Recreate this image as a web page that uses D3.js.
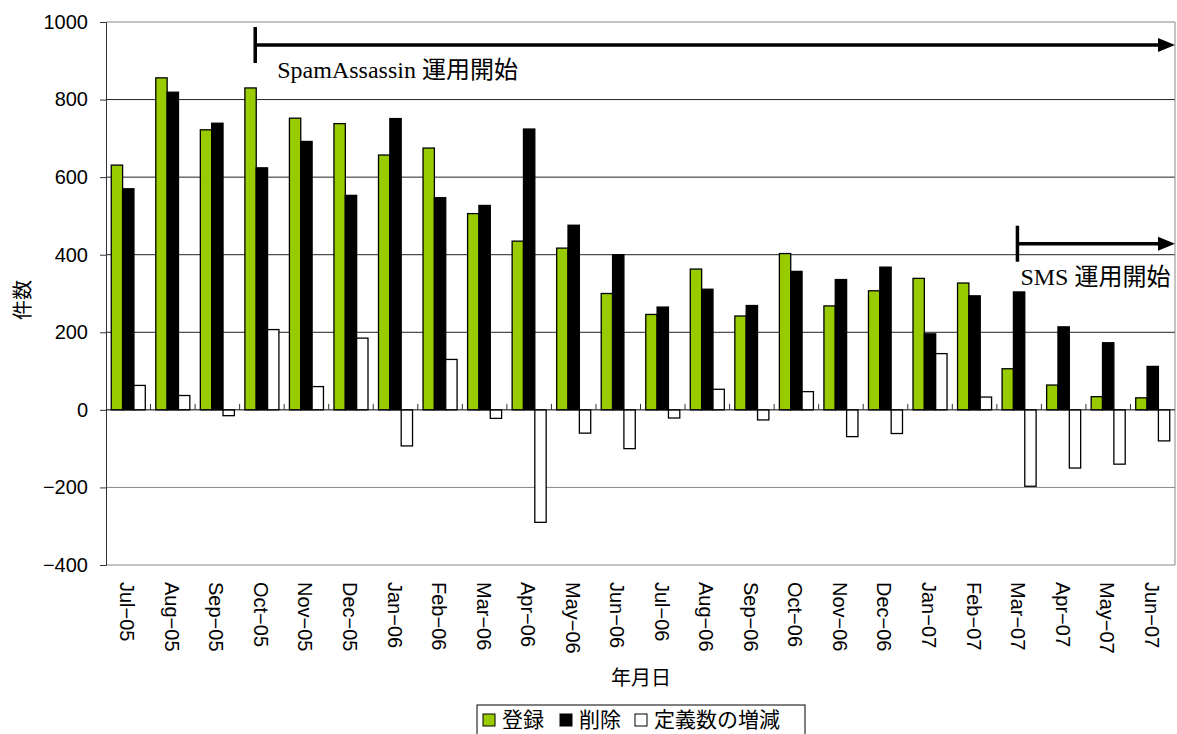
<!DOCTYPE html>
<html>
<head>
<meta charset="utf-8">
<script src="https://cdn.jsdelivr.net/npm/d3@7"></script>
<style>
  body { margin: 0; background: #fff; }
  .tick-label { font-family: "Liberation Sans", Arial, "Noto Sans CJK JP", sans-serif; font-size: 20px; fill: #000; }
  .cat-label { font-family: "Liberation Sans", Arial, sans-serif; font-size: 20px; fill: #000; }
  .title { font-family: "Liberation Sans", Arial, "Noto Sans CJK JP", sans-serif; font-size: 20px; fill: #000; }
  .note { font-family: "Liberation Serif", "Times New Roman", "Noto Sans CJK JP", serif; font-size: 24px; fill: #000; }
  .legend-text { font-family: "Liberation Sans", Arial, "Noto Sans CJK JP", sans-serif; font-size: 21px; fill: #000; }
</style>
</head>
<body>
<div id="chart"></div>
<script>
// Data
const months = [
  "Jul-05", "Aug-05", "Sep-05", "Oct-05", "Nov-05", "Dec-05",
  "Jan-06", "Feb-06", "Mar-06", "Apr-06", "May-06", "Jun-06",
  "Jul-06", "Aug-06", "Sep-06", "Oct-06", "Nov-06", "Dec-06",
  "Jan-07", "Feb-07", "Mar-07", "Apr-07", "May-07", "Jun-07"
];
const registered = [631, 856, 722, 830, 752, 738, 657, 675, 506, 435, 417, 300,
  246, 363, 242, 403, 268, 307, 339, 327, 106, 64, 34, 31];
const deleted = [570, 819, 739, 624, 692, 553, 751, 547, 527, 724, 476, 400,
  265, 311, 269, 357, 336, 368, 196, 294, 304, 214, 173, 112];
const netChange = [63, 37, -15, 207, 60, 185, -93, 130, -22, -290, -60, -100,
  -21, 53, -26, 47, -69, -61, 145, 33, -197, -150, -140, -80];
const yTicks = [-400, -200, 0, 200, 400, 600, 800, 1000];

const seriesNames = ["登録", "削除", "定義数の増減"];
const seriesColors = ["#99cc00", "#000000", "#ffffff"];

const width = 1177;
const height = 734;
const margin = { top: 22, right: 2, bottom: 169, left: 106 };
const plotW = width - margin.left - margin.right;
const plotH = height - margin.top - margin.bottom;

const svg = d3.select("#chart")
  .append("svg")
  .attr("width", width)
  .attr("height", height);

const g = svg.append("g")
  .attr("transform", "translate(" + margin.left + "," + margin.top + ")");

const xScale = d3.scaleBand()
  .domain(months)
  .range([0, plotW]);

const groupPad = xScale.bandwidth() * 0.118;
const barScale = d3.scaleBand()
  .domain([0, 1, 2])
  .range([groupPad, xScale.bandwidth() - groupPad]);

const yScale = d3.scaleLinear()
  .domain([-400, 1000])
  .range([plotH, 0]);

// grid lines
g.append("g")
  .selectAll("line")
  .data(yTicks.filter(d => d !== 0))
  .join("line")
  .attr("x1", 0)
  .attr("x2", plotW)
  .attr("y1", d => yScale(d))
  .attr("y2", d => yScale(d))
  .attr("stroke", d => (d === 1000 || d === -400 || d === -200) ? "#888" : "#222")
  .attr("stroke-width", 1);

// right border
g.append("line")
  .attr("x1", plotW).attr("x2", plotW)
  .attr("y1", 0).attr("y2", plotH)
  .attr("stroke", "#888");

// y axis
const yAxis = g.append("g")
  .call(d3.axisLeft(yScale).tickValues(yTicks).tickSize(6).tickPadding(12).tickFormat(d => d < 0 ? "\u2212" + Math.abs(d) : d));
yAxis.select(".domain").attr("stroke", "#333");
yAxis.selectAll(".tick line").attr("stroke", "#333");
yAxis.selectAll("text").attr("class", "tick-label");
yAxis.attr("font-size", null).attr("font-family", null);

// bars
const table = months.map((m, i) => ({ month: m, values: [registered[i], deleted[i], netChange[i]] }));

const groups = g.append("g")
  .selectAll("g")
  .data(table)
  .join("g")
  .attr("transform", d => "translate(" + xScale(d.month) + ",0)");

groups.selectAll("rect")
  .data(d => d.values.map((v, k) => ({ k: k, v: v })))
  .join("rect")
  .attr("x", d => barScale(d.k))
  .attr("width", barScale.bandwidth())
  .attr("y", d => yScale(Math.max(0, d.v)))
  .attr("height", d => Math.abs(yScale(d.v) - yScale(0)))
  .attr("fill", d => seriesColors[d.k])
  .attr("stroke", "#000")
  .attr("stroke-width", 1.3);

// zero line and category ticks
g.append("line")
  .attr("x1", 0).attr("x2", plotW)
  .attr("y1", yScale(0)).attr("y2", yScale(0))
  .attr("stroke", "#000");

g.append("g")
  .selectAll("line")
  .data(months.slice(1))
  .join("line")
  .attr("x1", d => xScale(d))
  .attr("x2", d => xScale(d))
  .attr("y1", yScale(0))
  .attr("y2", yScale(0) - 6)
  .attr("stroke", "#333");

// category labels (rotated)
g.append("g")
  .selectAll("text")
  .data(months)
  .join("text")
  .attr("class", "cat-label")
  .attr("transform", d => "translate(" + (xScale(d) + xScale.bandwidth() / 2 - 8) + "," + (plotH + 17) + ") rotate(90)")
  .attr("text-anchor", "start")
  .text(d => d.replace("-", "\u2212"));

// axis titles
svg.append("text")
  .attr("class", "title")
  .attr("transform", "translate(30,300) rotate(-90)")
  .attr("text-anchor", "middle")
  .text("件数");

svg.append("text")
  .attr("class", "title")
  .attr("x", 641)
  .attr("y", 685)
  .attr("text-anchor", "middle")
  .text("年月日");

// annotations
function arrow(x0, y, label, labelX, labelY) {
  const x1 = plotW;
  g.append("line")
    .attr("x1", x0).attr("x2", x0)
    .attr("y1", y - 18).attr("y2", y + 18)
    .attr("stroke", "#000").attr("stroke-width", 3.5);
  g.append("line")
    .attr("x1", x0).attr("x2", x1 - 14)
    .attr("y1", y).attr("y2", y)
    .attr("stroke", "#000").attr("stroke-width", 3.5);
  g.append("path")
    .attr("d", "M" + (x1 - 17) + "," + (y - 7) + " L" + x1 + "," + y + " L" + (x1 - 17) + "," + (y + 7) + " Z")
    .attr("fill", "#000");
  g.append("text")
    .attr("class", "note")
    .attr("x", labelX)
    .attr("y", labelY)
    .text(label);
}

const saX = xScale("Oct-05") + barScale(1) - 1;
const smsX = xScale("Mar-07") + barScale(1) + 4;
arrow(saX, yScale(1000) + 23, "SpamAssassin 運用開始", saX + 22, yScale(1000) + 56);
arrow(smsX, yScale(400) - 11, "SMS 運用開始", smsX + 3, yScale(400) + 30);

// legend
const legend = svg.append("g").attr("transform", "translate(477,705)");
legend.append("rect")
  .attr("x", 0).attr("y", 0)
  .attr("width", 328).attr("height", 30)
  .attr("fill", "#fff")
  .attr("stroke", "#000");

const legendX = [6, 83, 158];
seriesNames.forEach((name, i) => {
  legend.append("rect")
    .attr("x", legendX[i]).attr("y", 9)
    .attr("width", 12).attr("height", 12)
    .attr("fill", seriesColors[i])
    .attr("stroke", "#000");
  legend.append("text")
    .attr("class", "legend-text")
    .attr("x", legendX[i] + 19)
    .attr("y", 22)
    .text(name);
});
</script>
</body>
</html>
